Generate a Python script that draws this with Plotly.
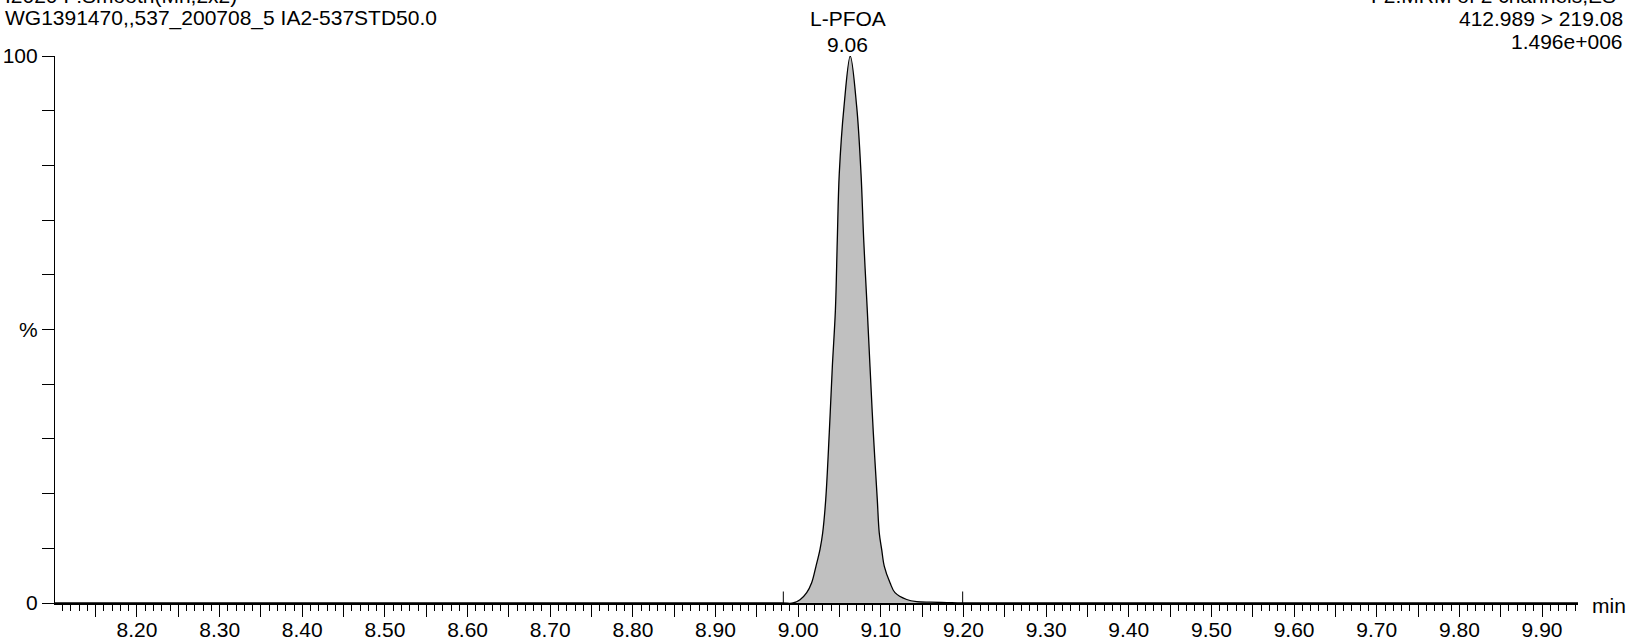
import plotly.graph_objects as go

# ---- data ----
times = [8.10, 8.98, 8.9937, 9.0022, 9.0103, 9.0163, 9.0215, 9.0264, 9.0296, 9.0333,
         9.0376, 9.0413, 9.0450, 9.0473, 9.0497, 9.0554, 9.0630, 9.0708, 9.0760,
         9.0793, 9.0836, 9.0869, 9.0909, 9.0957, 9.0981, 9.1010, 9.1042, 9.1111,
         9.1171, 9.1313, 9.1434, 9.16, 9.18, 9.20, 9.944]
intensity = [0, 0, 0.0, 0.6, 1.9, 3.7, 6.7, 9.8, 12.8, 18.9,
             31.1, 43.2, 53.5, 66.3, 78.5, 90.7, 100, 90.7, 78.5,
             66.3, 53.5, 43.2, 31.1, 18.9, 12.8, 9.8, 6.7, 3.7,
             1.9, 0.64, 0.25, 0.15, 0.08, 0, 0]
marker_times = [8.982, 9.199]
marker_height = 2.1

peak_name = "L-PFOA"
peak_rt = 9.06
header_left = ["I2020 F:Smooth(Mn,2x2)", "WG1391470,,537_200708_5 IA2-537STD50.0"]
header_right = ["F2:MRM of 2 channels,ES-", "412.989 > 219.08", "1.496e+006"]

x_tickvals = [round(8.15 + 0.05 * i, 2) for i in range(36)]
x_ticktext = [("%.2f" % v) if round(v * 100) % 10 == 0 else "" for v in x_tickvals]
y_tickvals = list(range(0, 101, 10))
y_ticktext = ["0", "", "", "", "", "%", "", "", "", "", "100"]

FONT = "Liberation Sans, Arial, Helvetica, sans-serif"
FS = 21
W, H = 1632, 641
ML, MR, MT, MB = 55, 54, 56, 38
PH = H - MT - MB
PW = W - ML - MR


def py(ypx):
    return (H - MB - ypx) / PH


def px(xpx):
    return (xpx - ML) / PW


fig = go.Figure()

# peak fill + trace
fig.add_trace(go.Scatter(
    x=times, y=intensity, mode="lines",
    line=dict(color="black", width=1.3, shape="spline", smoothing=1.0),
    fill="tozeroy", fillcolor="#c0c0c0",
    cliponaxis=False, hoverinfo="skip", showlegend=False))

# integration markers
for t in marker_times:
    fig.add_trace(go.Scatter(
        x=[t, t], y=[0, marker_height], mode="lines",
        line=dict(color="black", width=1), showlegend=False,
        hoverinfo="skip", cliponaxis=False))

ann = []
# header texts
ann.append(dict(text=header_left[0], x=px(3), y=py(-4), xanchor="left"))
ann.append(dict(text=header_left[1], x=px(3), y=py(18), xanchor="left"))
ann.append(dict(text=header_right[0], x=px(1625), y=py(-5), xanchor="right"))
ann.append(dict(text=header_right[1], x=px(1625), y=py(18), xanchor="right"))
ann.append(dict(text=header_right[2], x=px(1625), y=py(41.5), xanchor="right"))
for a in ann:
    a.update(xref="paper", yref="paper", yanchor="middle", showarrow=False,
             font=dict(family=FONT, size=FS, color="black"))

# peak labels
for txt, ypix in [(peak_name, 19), ("%.2f" % peak_rt, 44.5)]:
    ann.append(dict(text=txt, x=peak_rt, xref="x", y=py(ypix), yref="paper",
                    xanchor="center", yanchor="middle", showarrow=False,
                    font=dict(family=FONT, size=FS, color="black")))

# axis unit
ann.append(dict(text="min", x=1, xref="paper", xshift=12, y=py(605), yref="paper",
                xanchor="left", yanchor="middle", showarrow=False,
                font=dict(family=FONT, size=FS, color="black")))

fig.update_layout(
    template="none",
    width=W, height=H,
    margin=dict(l=ML, r=MR, t=MT, b=MB, pad=0, autoexpand=False),
    paper_bgcolor="white", plot_bgcolor="white",
    showlegend=False,
    annotations=ann,
    font=dict(family=FONT, size=FS, color="black"),
    xaxis=dict(
        range=[8.1008, 9.9435], showgrid=False, zeroline=False, automargin=False,
        showline=True, linecolor="black", linewidth=1.6,
        tickmode="array", tickvals=x_tickvals, ticktext=x_ticktext,
        ticks="outside", ticklen=12, tickwidth=1, tickcolor="black",
        ticklabelstandoff=-5,
        tickfont=dict(family=FONT, size=FS, color="black"),
        minor=dict(dtick=0.01, tick0=8.0, ticks="outside", ticklen=6,
                   tickwidth=1, tickcolor="black", showgrid=False),
    ),
    yaxis=dict(
        range=[0, 100], showgrid=False, zeroline=False, automargin=False,
        showline=True, linecolor="black", linewidth=1.2,
        tickmode="array", tickvals=y_tickvals, ticktext=y_ticktext,
        ticks="outside", ticklen=12, tickwidth=1, tickcolor="black",
        tickfont=dict(family=FONT, size=FS, color="black"),
    ),
)

fig.write_html(
    "out.html",
    config={"displayModeBar": False},
    post_script="document.body.style.margin='0';document.body.style.overflow='hidden';",
)
